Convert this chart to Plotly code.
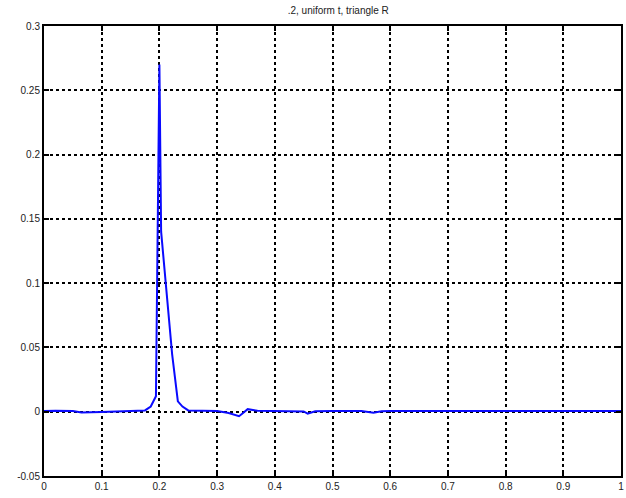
import plotly.graph_objects as go

x_vals = [0.0, 0.02, 0.05, 0.065, 0.1, 0.15, 0.175, 0.185, 0.194, 0.2, 0.203,
          0.215, 0.222, 0.232, 0.24, 0.25, 0.28, 0.3, 0.32, 0.338, 0.345, 0.353,
          0.37, 0.4, 0.45, 0.457, 0.47, 0.5, 0.55, 0.571, 0.585, 0.6, 0.7, 0.8,
          0.9, 1.0]
y_vals = [0.0005, 0.0008, 0.0005, -0.0006, -0.0003, 0.0003, 0.001, 0.004, 0.012,
          0.27, 0.14, 0.08, 0.045, 0.008, 0.004, 0.001, 0.0005, 0.0005, -0.001,
          -0.0035, -0.001, 0.002, 0.0008, 0.0005, 0.0002, -0.0015, 0.0003, 0.0005,
          0.0005, -0.0008, 0.0004, 0.0005, 0.0005, 0.0005, 0.0005, 0.0005]

x_ticks = [0, 0.1, 0.2, 0.3, 0.4, 0.5, 0.6, 0.7, 0.8, 0.9, 1.0]
x_tick_labels = ["0", "0.1", "0.2", "0.3", "0.4", "0.5", "0.6", "0.7", "0.8", "0.9", "1"]
y_ticks = [-0.05, 0, 0.05, 0.1, 0.15, 0.2, 0.25, 0.3]
y_tick_labels = ["-0.05", "0", "0.05", "0.1", "0.15", "0.2", "0.25", "0.3"]

title_text = ".2, uniform t, triangle R"

fig = go.Figure()
fig.add_trace(go.Scatter(x=x_vals, y=y_vals, mode="lines",
                         line=dict(color="#0a0aff", width=2), showlegend=False,
                         hoverinfo="skip"))

axis_common = dict(
    showline=True, linecolor="black", linewidth=2, mirror="ticks",
    ticks="inside", ticklen=5, tickwidth=2, tickcolor="black",
    showgrid=True, gridcolor="black", gridwidth=2, griddash="dot",
    zeroline=False, ticklabeloverflow="allow",
    tickfont=dict(family="Liberation Sans, Arial, sans-serif", size=10, color="#222"),
)

fig.update_xaxes(range=[0, 1], tickmode="array", tickvals=x_ticks,
                 ticktext=x_tick_labels, **axis_common)
fig.update_yaxes(range=[-0.05, 0.3], tickmode="array", tickvals=y_ticks,
                 ticktext=y_tick_labels, **axis_common)

fig.update_layout(
    width=626, height=498,
    margin=dict(l=44, r=2, t=26, b=22),
    paper_bgcolor="white", plot_bgcolor="white",
    title=dict(text=title_text, x=0.51, xref="paper", xanchor="center", y=0.985, yanchor="top",
               font=dict(family="Liberation Sans, Arial, sans-serif", size=10, color="#222")),
)

fig.write_html(
    "out.html",
    config={"displayModeBar": False},
    post_script="document.body.style.margin='0';document.body.style.overflow='hidden';",
)
